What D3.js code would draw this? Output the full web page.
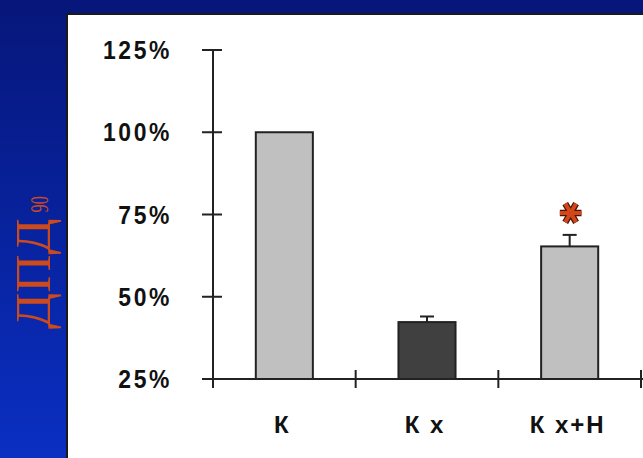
<!DOCTYPE html>
<html>
<head>
<meta charset="utf-8">
<script src="https://cdn.jsdelivr.net/npm/d3@7"></script>
<style>
  html, body { margin: 0; padding: 0; background: #0a1f9a; }
  svg { display: block; }
</style>
</head>
<body>
<svg id="chart" width="643" height="458"></svg>
<script>
// Groups and their relative values (% of control), with error bar sizes
const categories = ["К", "К х", "К х+Н"];
const values = [100, 42.3, 65.3];
const errors = [0, 1.7, 3.5];
const barColors = ["#c0c0c0", "#404040", "#c0c0c0"];
const significance = ["", "", "*"];
const yTicks = [25, 50, 75, 100, 125];
const yTickLabels = ["25%", "50%", "75%", "100%", "125%"];

const W = 643, H = 458;
const svg = d3.select("#chart");

// Slide background: vertical blue gradient
const defs = svg.append("defs");
const grad = defs.append("linearGradient").attr("id", "bg").attr("x1", 0).attr("y1", 0).attr("x2", 0).attr("y2", 1);
grad.append("stop").attr("offset", "0%").attr("stop-color", "#06167a");
grad.append("stop").attr("offset", "100%").attr("stop-color", "#0a2fc2");
svg.append("rect").attr("width", W).attr("height", H).attr("fill", "url(#bg)");

// White plot panel
svg.append("rect")
  .attr("x", 67).attr("y", 14).attr("width", W).attr("height", H)
  .attr("fill", "#ffffff").attr("stroke", "#1a1a1a").attr("stroke-width", 2);

// Scales
const y = d3.scaleLinear().domain([25, 125]).range([379, 50]);
const x = d3.scaleBand().domain(categories).range([213, 641])
  .paddingInner(0.6).paddingOuter(0.3);

const ink = "#222222";
const g = svg.append("g");

// Y axis: line with ticks crossing it
g.append("line").attr("x1", 213).attr("x2", 213).attr("y1", y(125)).attr("y2", 388)
  .attr("stroke", ink).attr("stroke-width", 2);
g.selectAll(".ytick").data(yTicks).join("line")
  .attr("x1", 202).attr("x2", 222)
  .attr("y1", d => y(d)).attr("y2", d => y(d))
  .attr("stroke", ink).attr("stroke-width", 2);
g.selectAll(".ylabel").data(yTicks).join("text")
  .attr("transform", d => `translate(172,${y(d) + 9}) scale(0.88,1)`)
  .attr("text-anchor", "end")
  .attr("font-family", "Liberation Sans, Arial, sans-serif")
  .attr("font-weight", "bold").attr("font-size", 26)
  .attr("letter-spacing", 3)
  .attr("fill", "#111")
  .text((d, i) => yTickLabels[i]);

// X axis: baseline with ticks at group boundaries
const step = x.step();
const bounds = [213].concat(categories.map(c => x(c) + x.bandwidth() + step * x.paddingInner() / 2));
g.append("line").attr("x1", 202).attr("x2", W).attr("y1", y(25)).attr("y2", y(25))
  .attr("stroke", ink).attr("stroke-width", 2);
g.selectAll(".xtick").data(bounds).join("line")
  .attr("x1", d => d).attr("x2", d => d)
  .attr("y1", 370).attr("y2", 388)
  .attr("stroke", ink).attr("stroke-width", 2);

// Bars
g.selectAll(".bar").data(categories).join("rect")
  .attr("x", d => x(d)).attr("width", x.bandwidth())
  .attr("y", (d, i) => y(values[i]))
  .attr("height", (d, i) => y(25) - y(values[i]))
  .attr("fill", (d, i) => barColors[i])
  .attr("stroke", ink).attr("stroke-width", 2);

// Error bars (upper whisker only)
categories.forEach((c, i) => {
  if (!errors[i]) return;
  const cx = x(c) + x.bandwidth() / 2;
  g.append("line").attr("x1", cx).attr("x2", cx)
    .attr("y1", y(values[i])).attr("y2", y(values[i] + errors[i]))
    .attr("stroke", ink).attr("stroke-width", 2);
  g.append("line").attr("x1", cx - 7).attr("x2", cx + 7)
    .attr("y1", y(values[i] + errors[i])).attr("y2", y(values[i] + errors[i]))
    .attr("stroke", ink).attr("stroke-width", 2);
});

// Significance marker
const star = d3.symbol().type(d3.symbolAsterisk).size(330);
categories.forEach((c, i) => {
  if (!significance[i]) return;
  const cx = x(c) + x.bandwidth() / 2 + 1;
  const cy = y(values[i] + errors[i]) - 22;
  [["#4a1505", 6.5], ["#d2461a", 4]].forEach(([col, w]) => {
    g.append("path").attr("d", star())
      .attr("transform", `translate(${cx},${cy}) rotate(90)`)
      .attr("fill", "none").attr("stroke", col).attr("stroke-width", w)
      .attr("stroke-linecap", "butt");
  });
});

// Category labels
g.selectAll(".xlabel").data(categories).join("text")
  .attr("x", d => x(d) + x.bandwidth() / 2 - 2).attr("y", 433)
  .attr("text-anchor", "middle")
  .attr("font-family", "Liberation Sans, Arial, sans-serif")
  .attr("font-weight", "bold").attr("font-size", 24)
  .attr("letter-spacing", 2)
  .attr("fill", "#111")
  .text(d => d);

// Y axis title with narrow subscript
const titleColor = "#cc4a1c";
const title = svg.append("text")
  .attr("transform", "translate(50,329) rotate(-90) scale(1.06,1)")
  .attr("font-family", "Liberation Serif, Times New Roman, serif")
  .attr("font-size", 50)
  .attr("fill", titleColor)
  .text("ДПД");
const tLen = title.node().getComputedTextLength() * 1.06;
svg.append("text")
  .attr("transform", `translate(50,329) rotate(-90) translate(${tLen + 6},-2) scale(0.65,1)`)
  .attr("font-family", "Liberation Serif, Times New Roman, serif")
  .attr("font-size", 25)
  .attr("fill", titleColor)
  .text("90");
</script>
</body>
</html>
